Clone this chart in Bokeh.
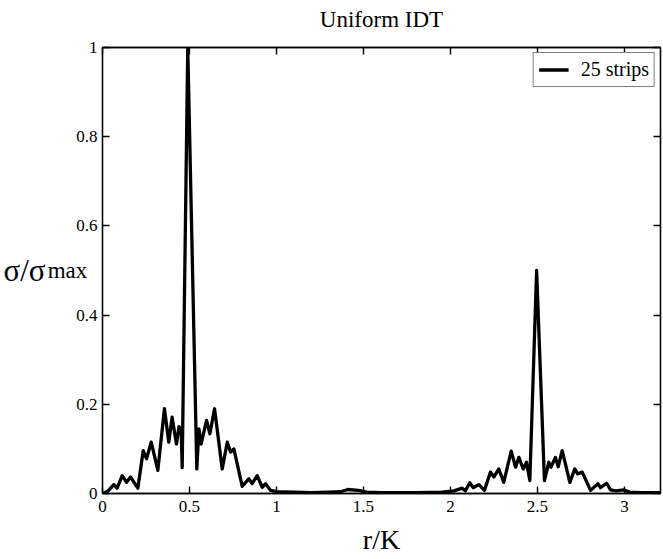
from bokeh.plotting import figure
from bokeh.models import Range1d, Legend, LegendItem, FixedTicker, LinearAxis
from bokeh.embed import file_html
from bokeh.resources import INLINE

# r/K values and normalised sigma
r_over_k = [0.0, 0.03, 0.065, 0.084, 0.113, 0.138, 0.161, 0.203, 0.234, 0.253,
            0.28, 0.318, 0.356, 0.381, 0.40, 0.425, 0.440, 0.446, 0.452, 0.458,
            0.490, 0.542, 0.554, 0.567, 0.598, 0.617, 0.644, 0.688, 0.717, 0.736,
            0.755, 0.803, 0.841, 0.86, 0.889, 0.918, 0.937, 0.966, 1.0, 1.1,
            1.2, 1.3, 1.37, 1.41, 1.47, 1.52, 1.6, 1.8, 1.95, 2.02,
            2.067, 2.085, 2.111, 2.13, 2.163, 2.195, 2.23, 2.249, 2.278, 2.306,
            2.349, 2.374, 2.393, 2.418, 2.437, 2.456, 2.495, 2.54, 2.565, 2.578,
            2.603, 2.619, 2.642, 2.686, 2.714, 2.731, 2.757, 2.805, 2.847, 2.862,
            2.897, 2.92, 2.95, 2.996, 3.03, 3.1, 3.207]
sigma_norm = [0.0, 0.005, 0.02, 0.012, 0.04, 0.025, 0.037, 0.012, 0.096, 0.078,
              0.115, 0.052, 0.19, 0.115, 0.171, 0.111, 0.15, 0.135, 0.145, 0.058,
              1.0, 0.055, 0.145, 0.111, 0.164, 0.134, 0.19, 0.055, 0.115, 0.093,
              0.1, 0.016, 0.033, 0.022, 0.04, 0.014, 0.022, 0.007, 0.004, 0.003,
              0.002, 0.003, 0.004, 0.009, 0.007, 0.003, 0.002, 0.002, 0.003, 0.006,
              0.012, 0.006, 0.024, 0.013, 0.02, 0.007, 0.048, 0.037, 0.055, 0.025,
              0.095, 0.059, 0.081, 0.055, 0.07, 0.029, 0.5, 0.029, 0.07, 0.059,
              0.081, 0.06, 0.096, 0.025, 0.055, 0.044, 0.048, 0.007, 0.022, 0.013,
              0.023, 0.008, 0.006, 0.008, 0.003, 0.002, 0.002]

x_ticks = [0, 0.5, 1, 1.5, 2, 2.5, 3]
x_tick_labels = ["0", "0.5", "1", "1.5", "2", "2.5", "3"]
y_ticks = [0, 0.2, 0.4, 0.6, 0.8, 1]
y_tick_labels = ["0", "0.2", "0.4", "0.6", "0.8", "1"]

x_min, x_max = 0.0, 3.207
y_min, y_max = 0.0, 1.0

title_text = "Uniform IDT"
x_label = "r/K"
y_label_main = "σ/σ"
y_label_sub = "max"
legend_label = "25 strips"

SERIF = "Liberation Serif"
BORDER_W = 1.3

p = figure(width=663, height=559, output_backend="svg", toolbar_location=None,
           x_range=Range1d(x_min, x_max), y_range=Range1d(y_min, y_max),
           min_border_left=102, min_border_right=3, min_border_top=47,
           min_border_bottom=66)

p.grid.visible = False
p.outline_line_color = "black"
p.outline_line_width = BORDER_W
p.background_fill_color = "white"
p.border_fill_color = "white"


def style_axis(ax, ticks, show_labels):
    ax.ticker = FixedTicker(ticks=ticks)
    ax.major_tick_in = 7
    ax.major_tick_out = 0
    ax.minor_tick_line_color = None
    ax.axis_line_color = "black"
    ax.axis_line_width = BORDER_W
    ax.major_tick_line_color = "black"
    ax.major_tick_line_width = 1.4
    if show_labels:
        ax.major_label_text_font = SERIF
        ax.major_label_text_font_size = "17px"
        ax.major_label_text_color = "black"
    else:
        ax.major_label_text_color = None
        ax.major_label_text_font_size = "1px"
        ax.major_label_standoff = 0


def style_label(ax, text, size, standoff):
    ax.axis_label = text
    ax.axis_label_text_font = SERIF
    ax.axis_label_text_font_size = size
    ax.axis_label_text_font_style = "normal"
    ax.axis_label_text_color = "black"
    ax.axis_label_standoff = standoff


# bottom axis
xa = p.xaxis[0]
style_axis(xa, x_ticks, True)
xa.major_label_overrides = {t: l for t, l in zip(x_ticks, x_tick_labels)}
xa.major_label_standoff = 7
style_label(xa, x_label, "28px", 9)

# left axis: tick labels plus the "max" part of the label
ya = p.yaxis[0]
style_axis(ya, y_ticks, True)
ya.major_label_overrides = {t: l for t, l in zip(y_ticks, y_tick_labels)}
ya.major_label_standoff = 5
style_label(ya, y_label_sub, "23px", -14)
ya.axis_label_orientation = "horizontal"

# outer left axis carrying "σ/σ"
ya2 = LinearAxis(ticker=FixedTicker(ticks=[]))
ya2.axis_line_color = None
ya2.major_tick_line_color = None
ya2.minor_tick_line_color = None
ya2.major_label_standoff = 0
ya2.major_tick_in = 0
ya2.major_tick_out = 0
style_label(ya2, y_label_main, "31px", -1)
ya2.axis_label_orientation = "horizontal"
p.add_layout(ya2, "left")

# top border ticks, with the title as its label
top_ax = LinearAxis()
style_axis(top_ax, x_ticks, False)
style_label(top_ax, title_text, "23px", 16)
p.add_layout(top_ax, "above")

# right border ticks
right_ax = LinearAxis()
style_axis(right_ax, y_ticks, False)
p.add_layout(right_ax, "right")

r = p.line(r_over_k, sigma_norm, line_color="black", line_width=3.3,
           line_join="round")

legend = Legend(items=[LegendItem(label=legend_label, renderers=[r])],
                location="top_right")
legend.label_text_font = SERIF
legend.label_text_font_size = "20px"
legend.label_text_color = "black"
legend.border_line_color = "black"
legend.border_line_width = 1.3
legend.background_fill_alpha = 1
legend.glyph_width = 30
legend.glyph_height = 17
legend.label_standoff = 12
legend.label_height = 17
legend.padding = 5
legend.spacing = 0
legend.margin = 5
p.add_layout(legend, "center")

open("out.html", "w").write(file_html(p, INLINE))
